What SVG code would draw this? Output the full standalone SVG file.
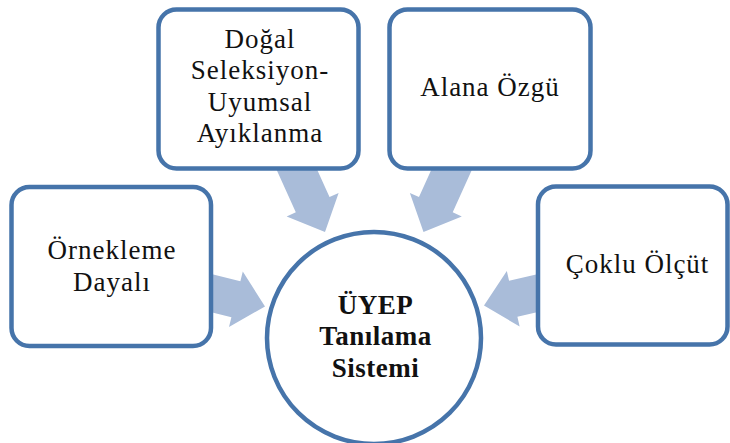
<svg xmlns="http://www.w3.org/2000/svg" xmlns:xlink="http://www.w3.org/1999/xlink" width="730" height="443" viewBox="0 0 730 443">
  <style>
    .box { fill: #ffffff; stroke: #4674aa; stroke-width: 4.5; }
    .arrow { fill: #a9bcd9; stroke: none; }
    .lbl { font-family: "Liberation Serif", "Times New Roman", serif; font-size: 27px; letter-spacing: 1px; fill: #111111; text-anchor: middle; }
    .ctr { font-family: "Liberation Serif", "Times New Roman", serif; font-size: 27px; font-weight: bold; letter-spacing: 0.5px; fill: #111111; text-anchor: middle; }
  </style>
  <defs>
    <path id="arrowShort" class="arrow" d="M0,0 L-30,-28.5 L-30,-18.5 L-60,-18.5 L-60,18.5 L-30,18.5 L-30,28.5 Z"/>
    <path id="arrowLong" class="arrow" d="M0,0 L-30,-28.5 L-30,-18.5 L-80,-18.5 L-80,18.5 L-30,18.5 L-30,28.5 Z"/>
  </defs>
  <rect width="730" height="443" fill="#ffffff"/>

  <g id="connectors">
    <use xlink:href="#arrowLong" href="#arrowLong" transform="translate(325,232) rotate(65.7)"/>
    <use xlink:href="#arrowLong" href="#arrowLong" transform="translate(423.5,232) rotate(114.3)"/>
    <use xlink:href="#arrowShort" href="#arrowShort" transform="translate(265,306.5) rotate(14)"/>
    <use xlink:href="#arrowShort" href="#arrowShort" transform="translate(484,305.5) rotate(167)"/>
  </g>

  <g id="node-dogal">
    <rect class="box" x="158.5" y="9.5" width="200" height="159" rx="18" ry="18"/>
    <text class="lbl" x="260" y="48">Doğal</text>
    <text class="lbl" x="260" y="79">Seleksiyon-</text>
    <text class="lbl" x="260" y="111">Uyumsal</text>
    <text class="lbl" x="260" y="142">Ayıklanma</text>
  </g>

  <g id="node-alana">
    <rect class="box" x="389.5" y="9.5" width="201" height="159" rx="18" ry="18"/>
    <text class="lbl" x="490" y="96">Alana Özgü</text>
  </g>

  <g id="node-ornekleme">
    <rect class="box" x="11.5" y="187" width="199.5" height="159" rx="18" ry="18"/>
    <text class="lbl" x="112" y="259">Örnekleme</text>
    <text class="lbl" x="112" y="290.5">Dayalı</text>
  </g>

  <g id="node-coklu">
    <rect class="box" x="538" y="186.5" width="189.5" height="158" rx="18" ry="18"/>
    <text class="lbl" x="637.5" y="273">Çoklu Ölçüt</text>
  </g>

  <g id="node-uyep">
    <ellipse class="box" cx="374" cy="338" rx="107" ry="106"/>
    <text class="ctr" x="375.5" y="314">ÜYEP</text>
    <text class="ctr" x="375.5" y="345">Tanılama</text>
    <text class="ctr" x="375.5" y="377">Sistemi</text>
  </g>
</svg>
